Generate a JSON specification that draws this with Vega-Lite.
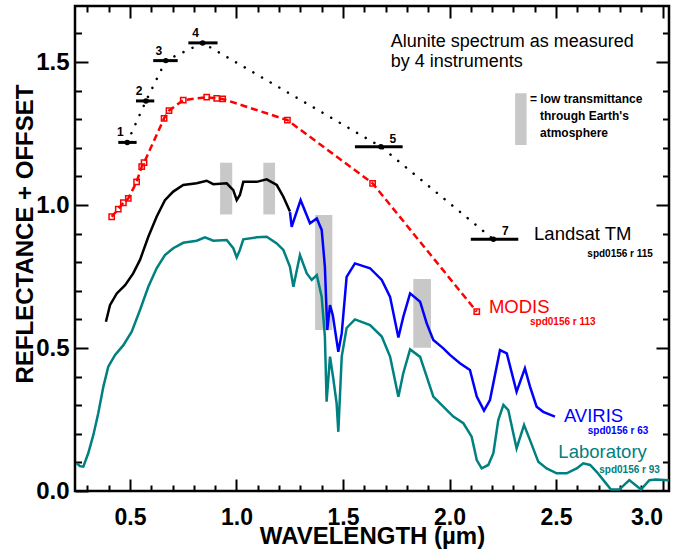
{
  "$schema": "https://vega.github.io/schema/vega-lite/v6.json",
  "width": 594,
  "height": 485,
  "autosize": {"type": "none"},
  "padding": {"left": 75, "top": 6, "right": 7, "bottom": 59},
  "background": "white",
  "config": {
    "view": {"stroke": "black", "strokeWidth": 2.5},
    "axis": {"domain": false, "grid": false, "ticks": true, "tickColor": "black", "tickWidth": 2, "labelOverlap": false, "labelFlush": false, "labelBound": false}
  },
  "datasets": {
    "atm": [
      {"wl": 0.923, "wl2": 0.980, "r": 0.967, "r2": 1.148},
      {"wl": 1.126, "wl2": 1.181, "r": 0.967, "r2": 1.148},
      {"wl": 1.369, "wl2": 1.450, "r": 0.563, "r2": 0.965},
      {"wl": 1.830, "wl2": 1.913, "r": 0.501, "r2": 0.741},
      {"wl": 2.308, "wl2": 2.362, "r": 1.210, "r2": 1.391}
    ],
    "spectra": [
      {"s": "Laboratory", "wl": 0.250, "r": 0.097},
      {"s": "Laboratory", "wl": 0.265, "r": 0.087},
      {"s": "Laboratory", "wl": 0.281, "r": 0.085},
      {"s": "Laboratory", "wl": 0.304, "r": 0.132},
      {"s": "Laboratory", "wl": 0.328, "r": 0.196},
      {"s": "Laboratory", "wl": 0.351, "r": 0.272},
      {"s": "Laboratory", "wl": 0.375, "r": 0.365},
      {"s": "Laboratory", "wl": 0.398, "r": 0.435},
      {"s": "Laboratory", "wl": 0.430, "r": 0.476},
      {"s": "Laboratory", "wl": 0.469, "r": 0.510},
      {"s": "Laboratory", "wl": 0.508, "r": 0.557},
      {"s": "Laboratory", "wl": 0.547, "r": 0.633},
      {"s": "Laboratory", "wl": 0.586, "r": 0.714},
      {"s": "Laboratory", "wl": 0.625, "r": 0.779},
      {"s": "Laboratory", "wl": 0.664, "r": 0.825},
      {"s": "Laboratory", "wl": 0.703, "r": 0.849},
      {"s": "Laboratory", "wl": 0.750, "r": 0.868},
      {"s": "Laboratory", "wl": 0.813, "r": 0.875},
      {"s": "Laboratory", "wl": 0.852, "r": 0.887},
      {"s": "Laboratory", "wl": 0.891, "r": 0.875},
      {"s": "Laboratory", "wl": 0.954, "r": 0.878},
      {"s": "Laboratory", "wl": 0.985, "r": 0.849},
      {"s": "Laboratory", "wl": 1.001, "r": 0.817},
      {"s": "Laboratory", "wl": 1.016, "r": 0.843},
      {"s": "Laboratory", "wl": 1.032, "r": 0.880},
      {"s": "Laboratory", "wl": 1.095, "r": 0.887},
      {"s": "Laboratory", "wl": 1.142, "r": 0.889},
      {"s": "Laboratory", "wl": 1.189, "r": 0.866},
      {"s": "Laboratory", "wl": 1.220, "r": 0.843},
      {"s": "Laboratory", "wl": 1.251, "r": 0.784},
      {"s": "Laboratory", "wl": 1.267, "r": 0.714},
      {"s": "Laboratory", "wl": 1.298, "r": 0.825},
      {"s": "Laboratory", "wl": 1.330, "r": 0.761},
      {"s": "Laboratory", "wl": 1.353, "r": 0.738},
      {"s": "Laboratory", "wl": 1.377, "r": 0.755},
      {"s": "Laboratory", "wl": 1.400, "r": 0.679},
      {"s": "Laboratory", "wl": 1.415, "r": 0.540},
      {"s": "Laboratory", "wl": 1.423, "r": 0.312},
      {"s": "Laboratory", "wl": 1.439, "r": 0.470},
      {"s": "Laboratory", "wl": 1.454, "r": 0.395},
      {"s": "Laboratory", "wl": 1.470, "r": 0.307},
      {"s": "Laboratory", "wl": 1.478, "r": 0.207},
      {"s": "Laboratory", "wl": 1.494, "r": 0.470},
      {"s": "Laboratory", "wl": 1.517, "r": 0.570},
      {"s": "Laboratory", "wl": 1.556, "r": 0.600},
      {"s": "Laboratory", "wl": 1.627, "r": 0.580},
      {"s": "Laboratory", "wl": 1.682, "r": 0.540},
      {"s": "Laboratory", "wl": 1.721, "r": 0.470},
      {"s": "Laboratory", "wl": 1.760, "r": 0.330},
      {"s": "Laboratory", "wl": 1.783, "r": 0.412},
      {"s": "Laboratory", "wl": 1.815, "r": 0.495},
      {"s": "Laboratory", "wl": 1.862, "r": 0.469},
      {"s": "Laboratory", "wl": 1.893, "r": 0.400},
      {"s": "Laboratory", "wl": 1.924, "r": 0.330},
      {"s": "Laboratory", "wl": 1.971, "r": 0.295},
      {"s": "Laboratory", "wl": 2.018, "r": 0.260},
      {"s": "Laboratory", "wl": 2.065, "r": 0.237},
      {"s": "Laboratory", "wl": 2.104, "r": 0.190},
      {"s": "Laboratory", "wl": 2.128, "r": 0.108},
      {"s": "Laboratory", "wl": 2.151, "r": 0.079},
      {"s": "Laboratory", "wl": 2.182, "r": 0.091},
      {"s": "Laboratory", "wl": 2.206, "r": 0.132},
      {"s": "Laboratory", "wl": 2.229, "r": 0.248},
      {"s": "Laboratory", "wl": 2.253, "r": 0.301},
      {"s": "Laboratory", "wl": 2.276, "r": 0.283},
      {"s": "Laboratory", "wl": 2.315, "r": 0.149},
      {"s": "Laboratory", "wl": 2.350, "r": 0.231},
      {"s": "Laboratory", "wl": 2.378, "r": 0.178},
      {"s": "Laboratory", "wl": 2.417, "r": 0.102},
      {"s": "Laboratory", "wl": 2.456, "r": 0.079},
      {"s": "Laboratory", "wl": 2.503, "r": 0.062},
      {"s": "Laboratory", "wl": 2.550, "r": 0.062},
      {"s": "Laboratory", "wl": 2.597, "r": 0.079},
      {"s": "Laboratory", "wl": 2.628, "r": 0.097},
      {"s": "Laboratory", "wl": 2.660, "r": 0.091},
      {"s": "Laboratory", "wl": 2.691, "r": 0.067},
      {"s": "Laboratory", "wl": 2.730, "r": 0.031},
      {"s": "Laboratory", "wl": 2.758, "r": 0.005},
      {"s": "Laboratory", "wl": 2.797, "r": 0.005},
      {"s": "Laboratory", "wl": 2.844, "r": 0.038},
      {"s": "Laboratory", "wl": 2.899, "r": 0.005},
      {"s": "Laboratory", "wl": 2.938, "r": 0.038},
      {"s": "Laboratory", "wl": 2.969, "r": 0.040},
      {"s": "Laboratory", "wl": 3.030, "r": 0.038},
      {"s": "AVIRIS_vis", "wl": 0.387, "r": 0.592},
      {"s": "AVIRIS_vis", "wl": 0.406, "r": 0.650},
      {"s": "AVIRIS_vis", "wl": 0.438, "r": 0.691},
      {"s": "AVIRIS_vis", "wl": 0.477, "r": 0.720},
      {"s": "AVIRIS_vis", "wl": 0.515, "r": 0.761},
      {"s": "AVIRIS_vis", "wl": 0.547, "r": 0.808},
      {"s": "AVIRIS_vis", "wl": 0.586, "r": 0.889},
      {"s": "AVIRIS_vis", "wl": 0.625, "r": 0.959},
      {"s": "AVIRIS_vis", "wl": 0.664, "r": 1.017},
      {"s": "AVIRIS_vis", "wl": 0.703, "r": 1.047},
      {"s": "AVIRIS_vis", "wl": 0.750, "r": 1.070},
      {"s": "AVIRIS_vis", "wl": 0.813, "r": 1.076},
      {"s": "AVIRIS_vis", "wl": 0.860, "r": 1.085},
      {"s": "AVIRIS_vis", "wl": 0.891, "r": 1.073},
      {"s": "AVIRIS_vis", "wl": 0.954, "r": 1.076},
      {"s": "AVIRIS_vis", "wl": 0.985, "r": 1.052},
      {"s": "AVIRIS_vis", "wl": 1.001, "r": 1.017},
      {"s": "AVIRIS_vis", "wl": 1.016, "r": 1.035},
      {"s": "AVIRIS_vis", "wl": 1.032, "r": 1.081},
      {"s": "AVIRIS_vis", "wl": 1.095, "r": 1.081},
      {"s": "AVIRIS_vis", "wl": 1.142, "r": 1.090},
      {"s": "AVIRIS_vis", "wl": 1.189, "r": 1.070},
      {"s": "AVIRIS_vis", "wl": 1.220, "r": 1.029},
      {"s": "AVIRIS_vis", "wl": 1.251, "r": 0.977},
      {"s": "AVIRIS", "wl": 1.251, "r": 0.975},
      {"s": "AVIRIS", "wl": 1.259, "r": 0.924},
      {"s": "AVIRIS", "wl": 1.301, "r": 1.017},
      {"s": "AVIRIS", "wl": 1.345, "r": 0.936},
      {"s": "AVIRIS", "wl": 1.377, "r": 0.953},
      {"s": "AVIRIS", "wl": 1.400, "r": 0.913},
      {"s": "AVIRIS", "wl": 1.415, "r": 0.784},
      {"s": "AVIRIS", "wl": 1.426, "r": 0.563},
      {"s": "AVIRIS", "wl": 1.439, "r": 0.650},
      {"s": "AVIRIS", "wl": 1.452, "r": 0.615},
      {"s": "AVIRIS", "wl": 1.478, "r": 0.487},
      {"s": "AVIRIS", "wl": 1.494, "r": 0.551},
      {"s": "AVIRIS", "wl": 1.517, "r": 0.749},
      {"s": "AVIRIS", "wl": 1.556, "r": 0.796},
      {"s": "AVIRIS", "wl": 1.627, "r": 0.779},
      {"s": "AVIRIS", "wl": 1.682, "r": 0.738},
      {"s": "AVIRIS", "wl": 1.721, "r": 0.679},
      {"s": "AVIRIS", "wl": 1.760, "r": 0.537},
      {"s": "AVIRIS", "wl": 1.783, "r": 0.609},
      {"s": "AVIRIS", "wl": 1.815, "r": 0.691},
      {"s": "AVIRIS", "wl": 1.862, "r": 0.662},
      {"s": "AVIRIS", "wl": 1.893, "r": 0.586},
      {"s": "AVIRIS", "wl": 1.924, "r": 0.528},
      {"s": "AVIRIS", "wl": 1.971, "r": 0.499},
      {"s": "AVIRIS", "wl": 2.002, "r": 0.476},
      {"s": "AVIRIS", "wl": 2.049, "r": 0.447},
      {"s": "AVIRIS", "wl": 2.096, "r": 0.423},
      {"s": "AVIRIS", "wl": 2.128, "r": 0.330},
      {"s": "AVIRIS", "wl": 2.162, "r": 0.281},
      {"s": "AVIRIS", "wl": 2.190, "r": 0.318},
      {"s": "AVIRIS", "wl": 2.237, "r": 0.493},
      {"s": "AVIRIS", "wl": 2.269, "r": 0.481},
      {"s": "AVIRIS", "wl": 2.315, "r": 0.347},
      {"s": "AVIRIS", "wl": 2.354, "r": 0.429},
      {"s": "AVIRIS", "wl": 2.378, "r": 0.365},
      {"s": "AVIRIS", "wl": 2.409, "r": 0.295},
      {"s": "AVIRIS", "wl": 2.440, "r": 0.277},
      {"s": "AVIRIS", "wl": 2.495, "r": 0.260},
      {"s": "MODIS", "wl": 0.414, "r": 0.959},
      {"s": "MODIS", "wl": 0.445, "r": 0.986},
      {"s": "MODIS", "wl": 0.469, "r": 1.008},
      {"s": "MODIS", "wl": 0.492, "r": 1.023},
      {"s": "MODIS", "wl": 0.531, "r": 1.081},
      {"s": "MODIS", "wl": 0.555, "r": 1.134},
      {"s": "MODIS", "wl": 0.566, "r": 1.148},
      {"s": "MODIS", "wl": 0.660, "r": 1.303},
      {"s": "MODIS", "wl": 0.683, "r": 1.330},
      {"s": "MODIS", "wl": 0.750, "r": 1.367},
      {"s": "MODIS", "wl": 0.860, "r": 1.377},
      {"s": "MODIS", "wl": 0.907, "r": 1.373},
      {"s": "MODIS", "wl": 0.935, "r": 1.371},
      {"s": "MODIS", "wl": 1.239, "r": 1.297},
      {"s": "MODIS", "wl": 1.639, "r": 1.076},
      {"s": "MODIS", "wl": 2.128, "r": 0.627}
    ],
    "landsat": [
      {"band": "1", "wl": 0.487, "r": 1.219, "lo": 0.445, "hi": 0.531},
      {"band": "2", "wl": 0.575, "r": 1.364, "lo": 0.528, "hi": 0.614},
      {"band": "3", "wl": 0.668, "r": 1.505, "lo": 0.609, "hi": 0.724},
      {"band": "4", "wl": 0.841, "r": 1.567, "lo": 0.774, "hi": 0.911},
      {"band": "5", "wl": 1.678, "r": 1.204, "lo": 1.556, "hi": 1.780},
      {"band": "7", "wl": 2.206, "r": 0.880, "lo": 2.100, "hi": 2.323}
    ],
    "notes": [
      {"t": "Alunite spectrum as measured", "g": "title", "s": "Landsat", "wl": 1.724, "r": 1.553},
      {"t": "by 4 instruments", "g": "title", "s": "Landsat", "wl": 1.724, "r": 1.484},
      {"t": "= low transmittance", "g": "legend", "s": "Landsat", "wl": 2.378, "r": 1.356},
      {"t": "through Earth's", "g": "legend", "s": "Landsat", "wl": 2.425, "r": 1.297},
      {"t": "atmosphere", "g": "legend", "s": "Landsat", "wl": 2.425, "r": 1.239},
      {"t": "Landsat TM", "g": "name", "s": "Landsat", "wl": 2.397, "r": 0.878},
      {"t": "spd0156 r 115", "g": "ref", "s": "Landsat", "wl": 2.647, "r": 0.817},
      {"t": "MODIS", "g": "name", "s": "MODIS", "wl": 2.185, "r": 0.623},
      {"t": "spd0156 r 113", "g": "ref", "s": "MODIS", "wl": 2.378, "r": 0.580},
      {"t": "AVIRIS", "g": "name", "s": "AVIRIS", "wl": 2.537, "r": 0.242},
      {"t": "spd0156 r 63", "g": "ref", "s": "AVIRIS", "wl": 2.649, "r": 0.199},
      {"t": "Laboratory", "g": "name", "s": "Laboratory", "wl": 2.511, "r": 0.114},
      {"t": "spd0156 r 93", "g": "ref", "s": "Laboratory", "wl": 2.703, "r": 0.062}
    ]
  },
  "encoding": {
    "x": {"field": "wl", "type": "quantitative", "scale": {"domain": [0.2418, 3.0305], "nice": false, "zero": false}, "axis": null},
    "y": {"field": "r", "type": "quantitative", "scale": {"domain": [0, 1.696], "nice": false, "zero": false}, "axis": null}
  },
  "layer": [
    {
      "data": {"name": "atm"},
      "mark": {"type": "rect", "color": "#c8c8c8"},
      "encoding": {
        "x": {"field": "wl", "type": "quantitative", "scale": {"domain": [0.2418, 3.0305], "nice": false, "zero": false},
          "axis": {
            "orient": "bottom", "offset": -12, "tickSize": 12,
            "values": [0.5, 1.0, 1.5, 2.0, 2.5, 3.0],
            "format": ".1f",
            "labelFont": "Liberation Sans", "labelFontSize": 23, "labelFontWeight": "bold", "labelColor": "black",
            "labelPadding": 15,
            "labelAlign": {"condition": {"test": "datum.value > 2.95", "value": "right"}, "value": "center"},
            "title": "WAVELENGTH (µm)", "titleFont": "Liberation Sans",
            "titleFontSize": 24, "titleFontWeight": "bold", "titleColor": "black",
            "titleBaseline": "alphabetic", "titleY": 64
          }},
        "x2": {"field": "wl2"},
        "y": {"field": "r", "type": "quantitative", "scale": {"domain": [0, 1.696], "nice": false, "zero": false},
          "axis": {
            "orient": "left", "offset": -13, "tickSize": 13,
            "values": [0, 0.5, 1.0, 1.5],
            "format": ".1f",
            "labelFont": "Liberation Sans", "labelFontSize": 24, "labelFontWeight": "bold", "labelColor": "black",
            "labelPadding": 6,
            "title": "REFLECTANCE + OFFSET", "titleFont": "Liberation Sans",
            "titleFontSize": 24, "titleFontWeight": "bold", "titleColor": "black",
            "titleAngle": 270, "titleBaseline": "alphabetic", "titleAlign": "center", "titleX": -56, "titleY": 227.5
          }},
        "y2": {"field": "r2"}
      }
    },
    {
      "data": {"name": "spectra"},
      "transform": [{"filter": "datum.s == 'Laboratory'"}],
      "mark": {"type": "line", "color": "#008080", "strokeWidth": 2.5},
      "encoding": {
        "x": {"field": "wl", "type": "quantitative", "scale": {"domain": [0.2418, 3.0305], "nice": false, "zero": false},
          "axis": {"orient": "bottom", "offset": -6, "tickSize": 6, "labels": false, "title": null,
            "values": [0.3,0.4,0.6,0.7,0.8,0.9,1.1,1.2,1.3,1.4,1.6,1.7,1.8,1.9,2.1,2.2,2.3,2.4,2.6,2.7,2.8,2.9]}},
        "y": {"field": "r", "type": "quantitative", "scale": {"domain": [0, 1.696], "nice": false, "zero": false},
          "axis": {"orient": "left", "offset": -6.5, "tickSize": 6.5, "labels": false, "title": null,
            "values": [0.1,0.2,0.3,0.4,0.6,0.7,0.8,0.9,1.1,1.2,1.3,1.4,1.6]}}
      }
    },
    {
      "data": {"name": "spectra"},
      "transform": [{"filter": "datum.s == 'AVIRIS_vis'"}],
      "mark": {"type": "line", "color": "#000000", "strokeWidth": 2.5},
      "encoding": {
        "x": {"field": "wl", "type": "quantitative", "scale": {"domain": [0.2418, 3.0305], "nice": false, "zero": false},
          "axis": {"orient": "top", "offset": -12, "tickSize": 12, "labels": false, "title": null,
            "values": [0.5, 1.0, 1.5, 2.0, 2.5, 3.0]}},
        "y": {"field": "r", "type": "quantitative", "scale": {"domain": [0, 1.696], "nice": false, "zero": false},
          "axis": {"orient": "right", "offset": -13, "tickSize": 13, "labels": false, "title": null,
            "values": [0.5, 1.0, 1.5]}}
      }
    },
    {
      "data": {"name": "spectra"},
      "transform": [{"filter": "datum.s == 'AVIRIS'"}],
      "mark": {"type": "line", "color": "#0000ff", "strokeWidth": 2.5},
      "encoding": {
        "x": {"field": "wl", "type": "quantitative", "scale": {"domain": [0.2418, 3.0305], "nice": false, "zero": false},
          "axis": {"orient": "top", "offset": -6, "tickSize": 6, "labels": false, "title": null,
            "values": [0.3,0.4,0.6,0.7,0.8,0.9,1.1,1.2,1.3,1.4,1.6,1.7,1.8,1.9,2.1,2.2,2.3,2.4,2.6,2.7,2.8,2.9]}},
        "y": {"field": "r", "type": "quantitative", "scale": {"domain": [0, 1.696], "nice": false, "zero": false},
          "axis": {"orient": "right", "offset": -6.5, "tickSize": 6.5, "labels": false, "title": null,
            "values": [0.1,0.2,0.3,0.4,0.6,0.7,0.8,0.9,1.1,1.2,1.3,1.4,1.6]}}
      }
    },
    {
      "data": {"name": "spectra"},
      "transform": [{"filter": "datum.s == 'MODIS'"}],
      "mark": {"type": "line", "color": "#ff0000", "strokeWidth": 2.5, "strokeDash": [7, 4]}
    },
    {
      "data": {"name": "spectra"},
      "transform": [{"filter": "datum.s == 'MODIS'"}],
      "mark": {"type": "point", "shape": "square", "color": "#ff0000", "filled": false, "size": 28, "strokeWidth": 1.5, "opacity": 1}
    },
    {
      "data": {"name": "landsat"},
      "mark": {"type": "line", "color": "#000000", "strokeWidth": 2.5, "strokeDash": [0.1, 9.9], "strokeCap": "round"}
    },
    {
      "data": {"name": "landsat"},
      "mark": {"type": "rule", "color": "#000000", "strokeWidth": 3},
      "encoding": {
        "x": {"field": "lo", "type": "quantitative"},
        "x2": {"field": "hi"}
      }
    },
    {
      "data": {"name": "landsat"},
      "mark": {"type": "point", "shape": "circle", "filled": true, "color": "#000000", "size": 30, "opacity": 1}
    },
    {
      "data": {"name": "landsat"},
      "transform": [{"filter": "datum.wl < 1"}],
      "mark": {"type": "text", "font": "Liberation Sans", "fontWeight": "bold", "fontSize": 12, "color": "#000000", "align": "center", "baseline": "alphabetic", "dx": -7, "dy": -6},
      "encoding": {"text": {"field": "band", "type": "nominal"}}
    },
    {
      "data": {"name": "landsat"},
      "transform": [{"filter": "datum.wl > 1"}],
      "mark": {"type": "text", "font": "Liberation Sans", "fontWeight": "bold", "fontSize": 12, "color": "#000000", "align": "center", "baseline": "alphabetic", "dx": 12, "dy": -4},
      "encoding": {"text": {"field": "band", "type": "nominal"}}
    },
    {
      "data": {"name": "notes"},
      "transform": [{"filter": "datum.g == 'title'"}],
      "mark": {"type": "text", "font": "Liberation Sans", "fontSize": 18, "color": "#000000", "align": "left", "baseline": "alphabetic"},
      "encoding": {"text": {"field": "t", "type": "nominal"}}
    },
    {
      "data": {"name": "notes"},
      "transform": [{"filter": "datum.g == 'legend'"}],
      "mark": {"type": "text", "font": "Liberation Sans", "fontSize": 12, "fontWeight": "bold", "color": "#000000", "align": "left", "baseline": "alphabetic"},
      "encoding": {"text": {"field": "t", "type": "nominal"}}
    },
    {
      "data": {"name": "notes"},
      "transform": [{"filter": "datum.g == 'name'"}],
      "mark": {"type": "text", "font": "Liberation Sans", "fontSize": 18.5, "align": "left", "baseline": "alphabetic"},
      "encoding": {
        "text": {"field": "t", "type": "nominal"},
        "color": {"field": "s", "type": "nominal", "scale": {"domain": ["Laboratory", "AVIRIS", "MODIS", "Landsat"], "range": ["#008080", "#0000ff", "#ff0000", "#000000"]}, "legend": null}
      }
    },
    {
      "data": {"name": "notes"},
      "transform": [{"filter": "datum.g == 'ref'"}],
      "mark": {"type": "text", "font": "Liberation Sans", "fontSize": 10, "fontWeight": "bold", "align": "left", "baseline": "alphabetic"},
      "encoding": {
        "text": {"field": "t", "type": "nominal"},
        "color": {"field": "s", "type": "nominal", "scale": {"domain": ["Laboratory", "AVIRIS", "MODIS", "Landsat"], "range": ["#008080", "#0000ff", "#ff0000", "#000000"]}, "legend": null}
      }
    }
  ],
  "resolve": {"axis": {"x": "independent", "y": "independent"}}
}
